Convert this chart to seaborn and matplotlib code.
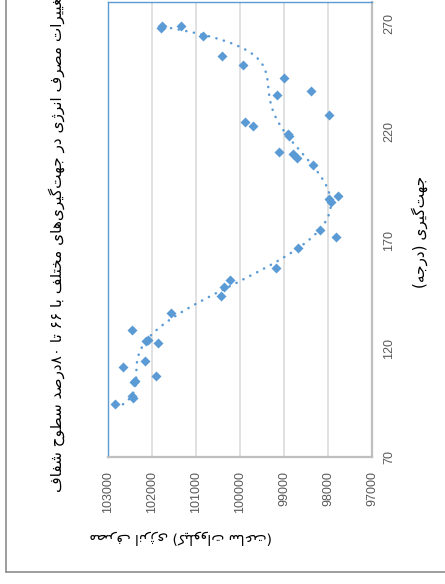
import re
import numpy as np
import matplotlib
matplotlib.use("Agg")
import matplotlib.pyplot as plt
from matplotlib.lines import Line2D
import seaborn as sns

# orientation (degrees) and energy use
orientation = [94.3, 97.3, 98.2, 104.6, 105.2, 107.3, 111.5, 114.4, 122.5, 123.5,
               124.0, 128.4, 136.5, 144.3, 148.5, 151.6, 157.4, 166.6, 171.5, 174.6,
               187.6, 189.2, 190.6, 204.6, 208.1, 209.6, 210.7, 218.2, 218.8, 222.7,
               224.7, 227.6, 236.8, 238.8, 244.7, 250.8, 254.8, 264.0, 268.0, 268.6,
               268.8]
energy = [102832, 102431, 102460, 102399, 102380, 101907, 102650, 102164, 101875, 102126,
          102100, 102460, 101579, 100441, 100373, 100229, 99189, 98688, 97816, 98180,
          97922, 97982, 97763, 98332, 98697, 98800, 99120, 98880, 98915, 99700,
          99880, 97968, 99159, 98378, 99000, 99940, 100410, 100850, 101800, 101780,
          101350]
energy_ticks = [97000, 98000, 99000, 100000, 101000, 102000, 103000]
orient_ticks = [70, 120, 170, 220, 270]

title = "تغییرات مصرف انرژی در جهت\u200cگیری\u200cهای مختلف با ۶۶ تا ۸۰درصد سطوح شفاف"
xtitle = "جهت\u200cگیری (درجه)"
ytitle = "مصرف انرژی (کیلووات ساعت)"

# matplotlib has no arabic shaping, so pick the presentation forms by hand
FORMS = {
    'ا': (0xFE8D, 0xFE8E), 'د': (0xFEA9, 0xFEAA), 'ر': (0xFEAD, 0xFEAE),
    'ژ': (0xFB8A, 0xFB8B), 'و': (0xFEED, 0xFEEE),
    'ب': (0xFE8F, 0xFE90, 0xFE91, 0xFE92), 'ت': (0xFE95, 0xFE96, 0xFE97, 0xFE98),
    'ج': (0xFE9D, 0xFE9E, 0xFE9F, 0xFEA0), 'ح': (0xFEA1, 0xFEA2, 0xFEA3, 0xFEA4),
    'خ': (0xFEA5, 0xFEA6, 0xFEA7, 0xFEA8), 'س': (0xFEB1, 0xFEB2, 0xFEB3, 0xFEB4),
    'ش': (0xFEB5, 0xFEB6, 0xFEB7, 0xFEB8), 'ص': (0xFEB9, 0xFEBA, 0xFEBB, 0xFEBC),
    'ط': (0xFEC1, 0xFEC2, 0xFEC3, 0xFEC4), 'ع': (0xFEC9, 0xFECA, 0xFECB, 0xFECC),
    'غ': (0xFECD, 0xFECE, 0xFECF, 0xFED0), 'ف': (0xFED1, 0xFED2, 0xFED3, 0xFED4),
    'ک': (0xFB8E, 0xFB8F, 0xFB90, 0xFB91), 'گ': (0xFB92, 0xFB93, 0xFB94, 0xFB95),
    'ل': (0xFEDD, 0xFEDE, 0xFEDF, 0xFEE0), 'م': (0xFEE1, 0xFEE2, 0xFEE3, 0xFEE4),
    'ن': (0xFEE5, 0xFEE6, 0xFEE7, 0xFEE8), 'ه': (0xFEE9, 0xFEEA, 0xFEEB, 0xFEEC),
    'ی': (0xFBFC, 0xFBFD, 0xFBFE, 0xFBFF),
}


def fa(s):
    out = []
    for i, ch in enumerate(s):
        if ch not in FORMS:
            out.append(ch)
            continue
        f = FORMS[ch]
        prv = s[i - 1] if i > 0 else ''
        nxt = s[i + 1] if i + 1 < len(s) else ''
        jp = prv in FORMS and len(FORMS[prv]) == 4
        jn = len(f) == 4 and nxt in FORMS
        k = 3 if (jp and jn) else 1 if jp else 2 if jn else 0
        out.append(chr(f[k]))
    out = ''.join(c for c in out if c != '\u200c')
    runs = re.findall(r'[0-9\u06f0-\u06f9]+|[^0-9\u06f0-\u06f9]', out)
    swap = {'(': ')', ')': '('}
    return ''.join(swap.get(r, r) for r in reversed(runs))


sns.set_style("white")
plt.rcParams['font.family'] = ['DejaVu Sans']

blue = "#5B9BD5"
fig = plt.figure(figsize=(4.45, 5.84), dpi=100)
ax = fig.add_axes([108 / 445, 1 - 457 / 584, 264 / 445, 455.3 / 584])

# excel style 6th order polynomial trendline
poly = np.polynomial.Polynomial.fit(orientation, energy, 6)
o_line = np.linspace(min(orientation), max(orientation), 300)
ax.plot(poly(o_line), o_line, color=blue, lw=1.8, dashes=(0.1, 3.0),
        dash_capstyle='round', zorder=2)

sns.scatterplot(x=energy, y=orientation, ax=ax, marker='D', s=26, color=blue,
                linewidth=0, zorder=3)

ax.set_xlim(103000, 97000)
ax.set_ylim(70, 280)
ax.set_xticks(energy_ticks)
ax.set_yticks(orient_ticks)
ax.grid(axis='x', color='#D9D9D9', lw=1.1)
ax.grid(axis='y', visible=False)
ax.yaxis.tick_right()
ax.tick_params(axis='x', labelrotation=90, length=0, pad=10, labelsize=9,
               labelcolor='#595959')
ax.tick_params(axis='y', labelrotation=90, length=0, pad=8, labelsize=9,
               labelcolor='#595959')
for lab in ax.get_xticklabels() + ax.get_yticklabels():
    lab.set_fontfamily('Liberation Sans')
for lab in ax.get_yticklabels():
    lab.set_va('center')

ax.spines['left'].set_color(blue)
ax.spines['top'].set_color(blue)
ax.spines['right'].set_color('#BFBFBF')
ax.spines['bottom'].set_color('#BFBFBF')
ax.spines['right'].set_linewidth(1.6)
ax.spines['bottom'].set_linewidth(1.6)
ax.spines['left'].set_linewidth(1.0)
ax.spines['top'].set_linewidth(1.0)

fig.text(57 / 445, 1 - 243 / 584, fa(title), rotation=90, ha='center', va='center',
         fontsize=11, color='black')
fig.text(420 / 445, 1 - 232 / 584, fa(xtitle), rotation=90, ha='center', va='center',
         fontsize=11, color='black')
fig.text(181 / 445, 1 - 537 / 584, fa(ytitle), rotation=180, ha='center', va='center',
         fontsize=10, color='black')

# outer chart border
fig.add_artist(Line2D([6 / 445, 6 / 445], [1 - 572 / 584, 1.0], color='#8C8C8C', lw=1.2))
fig.add_artist(Line2D([6 / 445, 1.0], [1 - 572 / 584, 1 - 572 / 584], color='#8C8C8C', lw=1.2))

fig.savefig("out.png", dpi=100)
